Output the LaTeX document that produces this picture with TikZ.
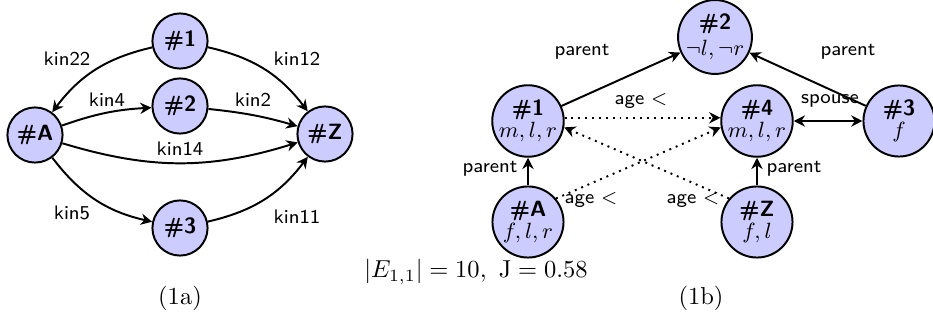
\documentclass[tikz,border=0pt]{standalone}
\usetikzlibrary{arrows.meta}
\definecolor{nodefill}{RGB}{204,204,255}
\begin{document}
\begin{tikzpicture}[x=0.408pt,y=-0.408pt,
  vtx/.style={circle,draw,line width=0.8pt,fill=nodefill,inner sep=0pt,minimum size=22.5pt,font=\small\sffamily\bfseries},
  vtxb/.style={circle,draw,line width=0.8pt,fill=nodefill,inner sep=0pt,minimum size=29pt,align=center,font=\small\sffamily\bfseries},
  mytip/.tip={Stealth[length=4.6pt,width=4.6pt,inset=1.5pt]},
  arr/.style={line width=0.8pt,-mytip},
  darr/.style={line width=0.8pt,mytip-mytip},
  dotarr/.style={line width=0.8pt,dotted,-mytip},
  lbl/.style={font=\footnotesize\sffamily,inner sep=1pt},
  captxt/.style={font=\normalsize,inner sep=0pt}
]
\useasboundingbox (0,0) rectangle (933,321);
% ---------- (1a) ----------
\node[vtx] (l1) at (180,41) {\#1};
\node[vtx] (l2) at (180,106) {\#2};
\node[vtx] (l3) at (180,228) {\#3};
\node[vtx] (lA) at (35,135) {\#A};
\node[vtx] (lZ) at (325,134) {\#Z};
\draw[arr] (l1) to[bend right=20] (lA);
\draw[arr] (l1) to[bend left=20] (lZ);
\draw[arr] (lA) to[bend left=8] (l2);
\draw[arr] (l2) to[bend left=5] (lZ);
\draw[arr] (lA) to[bend right=17] (lZ);
\draw[arr] (lA) to[bend right=20] (l3);
\draw[arr] (l3) to[bend right=20] (lZ);
\node[lbl] (k22) at (67,59) {kin22};
\node[lbl] (k12) at (297,59) {kin12};
\node[lbl] (k4) at (107,100) {kin4};
\node[lbl] (k2) at (253,100) {kin2};
\node[lbl] (k14) at (180,149) {kin14};
\node[lbl] (k5) at (72,213) {kin5};
\node[lbl] (k11) at (297,217) {kin11};
\node[captxt] (ca) at (180,298) {(1a)};
% ---------- (1b) ----------
\node[vtxb] (r2) at (715,37) {\#2\\[-0.5pt]{\normalfont$\neg l,\neg r$}};
\node[vtxb] (r1) at (528,121) {\#1\\[-2pt]{\normalfont$m,l,r$}};
\node[vtxb] (r4) at (757,121) {\#4\\[-2pt]{\normalfont$m,l,r$}};
\node[vtxb] (r3) at (899,121) {\#3\\[-2pt]{\normalfont$f$}};
\node[vtxb] (rA) at (528,222) {\#A\\[-2pt]{\normalfont$f,l,r$}};
\node[vtxb] (rZ) at (757,222) {\#Z\\[-2pt]{\normalfont$f,l$}};
\draw[arr] (r1) -- (r2);
\draw[arr] (r3) -- (r2);
\draw[darr] (r4) -- (r3);
\draw[arr] (rA) -- (r1);
\draw[arr] (rZ) -- (r4);
\draw[dotarr] (r1.5) -- (r4.175);
\draw[dotarr] (rA.40) -- (r4.190);
\draw[dotarr] (rZ.140) -- (r1.350);
\node[lbl] (p1) at (582,52) {parent};
\node[lbl] (p2) at (848,52) {parent};
\node[lbl] (sp) at (830,101) {spouse};
\node[lbl] (a1) at (641,101) {age $<$};
\node[lbl] (p3) at (490,169) {parent};
\node[lbl] (p4) at (794,169) {parent};
\node[lbl] (a2) at (591,200) {age $<$};
\node[lbl] (a3) at (693,200) {age $<$};
\node[captxt] (cb) at (701,298) {(1b)};
\node[captxt] (ce) at (476,272) {$|E_{1,1}|=10,\ \mathrm{J}=0.58$};
\end{tikzpicture}
\end{document}
